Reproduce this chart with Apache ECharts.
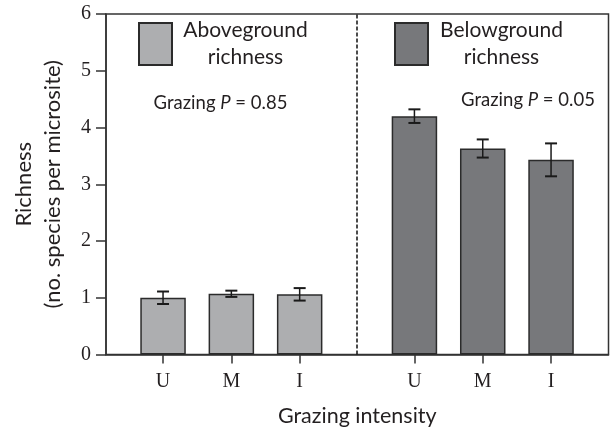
<!DOCTYPE html>
<html>
<head>
<meta charset="utf-8">
<script src="https://cdn.jsdelivr.net/npm/echarts@6/dist/echarts.min.js"></script>
<style>
html,body{margin:0;padding:0;background:#fff;}
#chart{width:611px;height:429px;}
</style>
</head>
<body>
<div id="chart"></div>
<script>
// ---- data ----
const categories = ['U', 'M', 'I'];
const seriesNames = ['Aboveground richness', 'Belowground richness'];
const legendLines = [['Aboveground', 'richness'], ['Belowground', 'richness']];
const aboveMean = [1.00, 1.07, 1.06];
const aboveErr = [0.11, 0.055, 0.11];
const belowMean = [4.20, 3.63, 3.43];
const belowErr = [0.12, 0.16, 0.29];
const pValues = ['0.85', '0.05'];
const yTicks = [0, 1, 2, 3, 4, 5, 6];
const xTitle = 'Grazing intensity';
const yTitle = ['Richness', '(no. species per microsite)'];

// ---- layout helpers ----
const edgePad = 0.835;
const groupGap = 1.68;
const groupStep = categories.length - 1 + groupGap;
function pos(g, i) { return edgePad + g * groupStep + i; }
const xMax = pos(1, categories.length - 1) + 0.841;
const dividerX = pos(0, categories.length - 1) + groupGap / 2;

const groups = [
  { mean: aboveMean, err: aboveErr, color: '#adaeb0' },
  { mean: belowMean, err: belowErr, color: '#77787b' }
];
const tickPositions = [];
const tickLabels = {};
groups.forEach((gr, g) => categories.forEach((c, i) => {
  const p = pos(g, i);
  tickPositions.push(p);
  tickLabels[p.toFixed(4)] = c;
}));

const textColor = '#231f20';
const lineColor = '#333333';
const sans = 'Lato, "Open Sans", sans-serif';
const serif = '"Liberation Serif", "DejaVu Serif", serif';

const chart = echarts.init(document.getElementById('chart'), null, { renderer: 'canvas' });

const series = [];
groups.forEach((gr, g) => {
  series.push({
    name: seriesNames[g],
    type: 'bar',
    barWidth: 45.5,
    barGap: '-100%',
    data: gr.mean.map((v, i) => [pos(g, i), v]),
    itemStyle: { color: gr.color, borderColor: '#2b2b2b', borderWidth: 1.5 },
    emphasis: { disabled: true },
    markLine: g === 0 ? {
      silent: true,
      symbol: 'none',
      label: { show: false },
      lineStyle: { color: '#111', type: [4, 2], width: 1.5 },
      data: [{ xAxis: dividerX }]
    } : undefined,
    z: 2
  });
  series.push({
    name: seriesNames[g] + ' error',
    type: 'custom',
    data: gr.mean.map((v, i) => [pos(g, i), v, gr.err[i]]),
    renderItem: function (params, api) {
      const x = api.value(0), m = api.value(1), e = api.value(2);
      const top = api.coord([x, m + e]);
      const bot = api.coord([x, m - e]);
      const hw = 6;
      const st = { stroke: '#1a1a1a', lineWidth: 2 };
      return {
        type: 'group',
        children: [
          { type: 'line', shape: { x1: top[0], y1: top[1], x2: bot[0], y2: bot[1] }, style: { stroke: '#1a1a1a', lineWidth: 1.5 } },
          { type: 'line', shape: { x1: top[0] - hw, y1: top[1], x2: top[0] + hw, y2: top[1] }, style: st },
          { type: 'line', shape: { x1: bot[0] - hw, y1: bot[1], x2: bot[0] + hw, y2: bot[1] }, style: st }
        ]
      };
    },
    z: 3
  });
});

function legendFor(g, left) {
  return {
    left: left, top: 15,
    orient: 'vertical',
    icon: 'rect',
    itemWidth: 33, itemHeight: 42,
    selectedMode: false,
    data: [seriesNames[g]],
    formatter: function () {
      return legendLines[g].map(t => '{a|' + t + '}').join('\n');
    },
    textStyle: {
      rich: {
        a: { fontFamily: sans, fontSize: 21, color: textColor, width: 137, align: 'center', lineHeight: 27 }
      }
    }
  };
}

function pText(g, x, y) {
  return {
    type: 'text',
    style: {
      x: x, y: y,
      text: '{n|Grazing }{i|P}{n| = ' + pValues[g] + '}',
      align: 'center', verticalAlign: 'middle',
      rich: {
        n: { fontFamily: sans, fontSize: 18.5, fill: textColor },
        i: { fontFamily: sans, fontSize: 18.5, fontStyle: 'italic', fill: textColor }
      }
    }
  };
}

chart.setOption({
  animation: false,
  backgroundColor: '#fff',
  grid: {
    left: 106, right: 2.5, top: 14, bottom: 74.5,
    outerBoundsMode: 'none',
    containLabel: false,
    show: true, borderColor: lineColor, borderWidth: 1.5, backgroundColor: 'transparent'
  },
  legend: [legendFor(0, 133), legendFor(1, 389)],
  xAxis: {
    type: 'value',
    min: 0, max: xMax,
    name: xTitle,
    nameLocation: 'middle',
    nameGap: 51,
    nameTextStyle: { fontFamily: sans, fontSize: 21.5, color: textColor },
    axisLine: { show: true, lineStyle: { color: lineColor, width: 1.5 } },
    axisTick: { show: true, length: 9, customValues: tickPositions, lineStyle: { color: lineColor, width: 1.5 } },
    axisLabel: {
      customValues: tickPositions,
      formatter: v => tickLabels[Number(v).toFixed(4)] || '',
      fontFamily: serif, fontSize: 20, color: textColor, margin: 17
    },
    splitLine: { show: false }
  },
  yAxis: {
    type: 'value',
    min: yTicks[0], max: yTicks[yTicks.length - 1], interval: 1,
    name: yTitle.join('\n'),
    nameLocation: 'middle',
    nameRotate: 90,
    nameGap: 39,
    nameTextStyle: { fontFamily: sans, fontSize: 22, color: textColor, lineHeight: 29 },
    axisLine: { show: true, lineStyle: { color: lineColor, width: 1.5 } },
    axisTick: { show: true, length: 10, lineStyle: { color: lineColor, width: 1.5 } },
    axisLabel: { fontFamily: serif, fontSize: 20, color: textColor, margin: 15 },
    splitLine: { show: false }
  },
  graphic: [pText(0, 220.5, 103), pText(1, 528, 100)],
  series: series
});
</script>
</body>
</html>
